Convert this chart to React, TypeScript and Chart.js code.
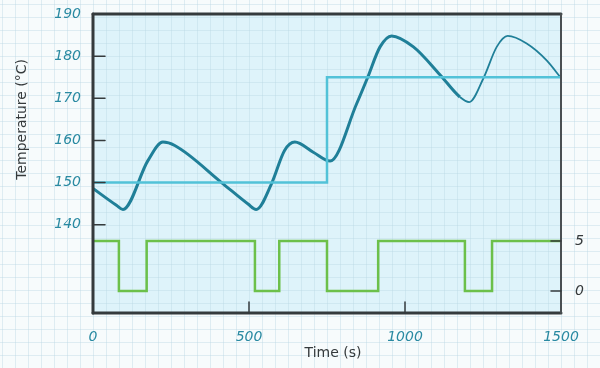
import React, { useEffect, useRef } from 'react';
import { Chart, registerables } from 'chart.js';
Chart.register(...registerables);

const timeTicks = [0, 500, 1000, 1500];
const tempTicks = [140, 150, 160, 170, 180, 190];
const heaterTicks = [0, 5];

const tempTimes = [0, 75, 96, 176, 224, 262, 417, 497, 523, 572, 614, 647, 706, 760, 845, 879, 920, 957, 1027, 1112, 1176, 1206, 1251, 1294, 1329, 1390, 1454, 1500];
const tempValues = [148.6, 144.6, 143.6, 155.2, 159.6, 158.8, 149.7, 144.9, 143.6, 149.7, 157.6, 159.6, 157.2, 155.1, 168.7, 174.7, 182.2, 184.8, 182.2, 175.6, 170.3, 169.1, 174.7, 182.2, 184.8, 183.0, 179.0, 174.8];

const setpointTimes = [0, 750, 1500];
const setpointValues = [150, 175, 175];

const heaterTimes = [0, 83, 172, 519, 597, 750, 914, 1192, 1279, 1500];
const heaterValues = [5, 0, 5, 0, 5, 0, 5, 0, 5, 5];

const TEAL = '#1f7f98';
const SETPOINT = '#52c2d8';
const GREEN = '#6cc04a';
const LABEL = '#2a8aa2';
const DARK = '#353a3c';
const FONT = "'DejaVu Sans', sans-serif";

const paperPlugin = {
  id: 'paper',
  beforeDraw(chart: any) {
    const { ctx, width, height, chartArea } = chart;
    ctx.save();
    ctx.fillStyle = '#f7fbfc';
    ctx.fillRect(0, 0, width, height);
    ctx.fillStyle = 'rgba(218,242,249,0.9)';
    ctx.fillRect(chartArea.left, chartArea.top, chartArea.right - chartArea.left, chartArea.bottom - chartArea.top);
    ctx.strokeStyle = 'rgba(185,215,228,0.4)';
    ctx.lineWidth = 1;
    for (let x = 2.5; x < width; x += 13) {
      ctx.beginPath(); ctx.moveTo(x, 0); ctx.lineTo(x, height); ctx.stroke();
    }
    for (let y = 4.5; y < height; y += 13) {
      ctx.beginPath(); ctx.moveTo(0, y); ctx.lineTo(width, y); ctx.stroke();
    }
    ctx.restore();
  },
  afterDatasetsDraw(chart: any) {
    const { ctx, chartArea } = chart;
    const { left, right, top, bottom } = chartArea;
    const xs = chart.scales.x, ys = chart.scales.y, y1 = chart.scales.y1;
    ctx.save();
    ctx.strokeStyle = DARK;
    ctx.lineCap = 'round';
    ctx.lineWidth = 3;
    ctx.beginPath(); ctx.moveTo(left, top); ctx.lineTo(right, top); ctx.stroke();
    ctx.beginPath(); ctx.moveTo(left, top); ctx.lineTo(left, bottom); ctx.stroke();
    ctx.beginPath(); ctx.moveTo(left, bottom); ctx.lineTo(right, bottom); ctx.stroke();
    ctx.lineWidth = 2;
    ctx.strokeStyle = '#4a4f52';
    ctx.beginPath(); ctx.moveTo(right, top); ctx.lineTo(right, bottom); ctx.stroke();
    ctx.strokeStyle = DARK;
    ctx.lineWidth = 1.5;
    tempTicks.forEach((v) => {
      if (v === 190) return;
      const y = ys.getPixelForValue(v);
      ctx.beginPath(); ctx.moveTo(left, y); ctx.lineTo(left + 12, y); ctx.stroke();
    });
    heaterTicks.forEach((v) => {
      const y = y1.getPixelForValue(v);
      ctx.beginPath(); ctx.moveTo(right - 10, y); ctx.lineTo(right, y); ctx.stroke();
    });
    timeTicks.forEach((v) => {
      if (v === 0 || v === 1500) return;
      const x = xs.getPixelForValue(v);
      ctx.beginPath(); ctx.moveTo(x, bottom); ctx.lineTo(x, bottom - 11); ctx.stroke();
    });
    ctx.restore();
  },
  afterDraw(chart: any) {
    const { ctx } = chart;
    const ys = chart.scales.y;
    ctx.save();
    ctx.fillStyle = DARK;
    ctx.font = `14px ${FONT}`;
    ctx.textAlign = 'center';
    ctx.textBaseline = 'middle';
    const cy = (ys.getPixelForValue(140) + ys.getPixelForValue(190)) / 2;
    ctx.translate(22, cy);
    ctx.rotate(-Math.PI / 2);
    ctx.fillText('Temperature (°C)', 0, 0);
    ctx.restore();
    ctx.save();
    ctx.fillStyle = DARK;
    ctx.font = `14px ${FONT}`;
    ctx.textAlign = 'center';
    ctx.textBaseline = 'middle';
    ctx.fillText('Time (s)', 333, 353);
    ctx.restore();
  },
};

export default function App() {
  const ref = useRef<HTMLCanvasElement>(null);
  useEffect(() => {
    if (!ref.current) return;
    const tickFont = { family: FONT, size: 14, style: 'italic' as const };
    const zeroVPad = (s: any) => { s.paddingTop = 0; s.paddingBottom = 0; };
    const chart = new Chart(ref.current, {
      type: 'line',
      data: {
        datasets: [
          {
            label: 'Setpoint',
            data: setpointTimes.map((t, i) => ({ x: t, y: setpointValues[i] })),
            borderColor: SETPOINT,
            borderWidth: 2.5,
            stepped: true,
            pointRadius: 0,
            yAxisID: 'y',
          },
          {
            label: 'Temperature',
            data: tempTimes.map((t, i) => ({ x: t, y: tempValues[i] })),
            borderColor: TEAL,
            borderWidth: 3,
            cubicInterpolationMode: 'monotone',
            pointRadius: 0,
            yAxisID: 'y',
            segment: {
              borderWidth: (c: any) => (c.p0.parsed.x >= 1176 ? 1.8 : 3),
            },
          },
          {
            label: 'Heater',
            data: heaterTimes.map((t, i) => ({ x: t, y: heaterValues[i] })),
            borderColor: GREEN,
            borderWidth: 2.5,
            stepped: true,
            pointRadius: 0,
            yAxisID: 'y1',
          },
        ],
      },
      options: {
        responsive: false,
        animation: false,
        layout: { padding: { left: 0, right: 0, top: 14, bottom: 0 } },
        plugins: { legend: { display: false }, tooltip: { enabled: false } },
        scales: {
          x: {
            type: 'linear',
            min: 0,
            max: 1500,
            grid: { display: false, drawTicks: false },
            border: { display: false },
            ticks: { color: LABEL, font: tickFont, padding: 16, maxRotation: 0, callback: (v: any) => String(v) },
            afterBuildTicks: (s: any) => { s.ticks = timeTicks.map((v) => ({ value: v })); },
            afterFit: (s: any) => { s.height = 55; s.paddingLeft = 0; s.paddingRight = 0; },
          },
          y: {
            type: 'linear',
            position: 'left',
            min: 119.05,
            max: 190,
            grid: { display: false, drawTicks: false },
            border: { display: false },
            ticks: { color: LABEL, font: tickFont, padding: 12, callback: (v: any) => String(v) },
            afterBuildTicks: (s: any) => { s.ticks = tempTicks.map((v) => ({ value: v })); },
            afterFit: (s: any) => { s.width = 93; zeroVPad(s); },
          },
          y1: {
            type: 'linear',
            position: 'right',
            min: -2.2,
            max: 27.7,
            grid: { display: false, drawTicks: false },
            border: { display: false },
            ticks: { color: DARK, font: tickFont, padding: 14, callback: (v: any) => String(v) },
            afterBuildTicks: (s: any) => { s.ticks = heaterTicks.map((v) => ({ value: v })); },
            afterFit: (s: any) => { s.width = 39; zeroVPad(s); },
          },
        },
      },
      plugins: [paperPlugin],
    });
    return () => chart.destroy();
  }, []);
  return (
    <div style={{ position: 'fixed', left: 0, top: 0, width: 600, height: 368 }}>
      <canvas ref={ref} width={600} height={368} />
    </div>
  );
}
